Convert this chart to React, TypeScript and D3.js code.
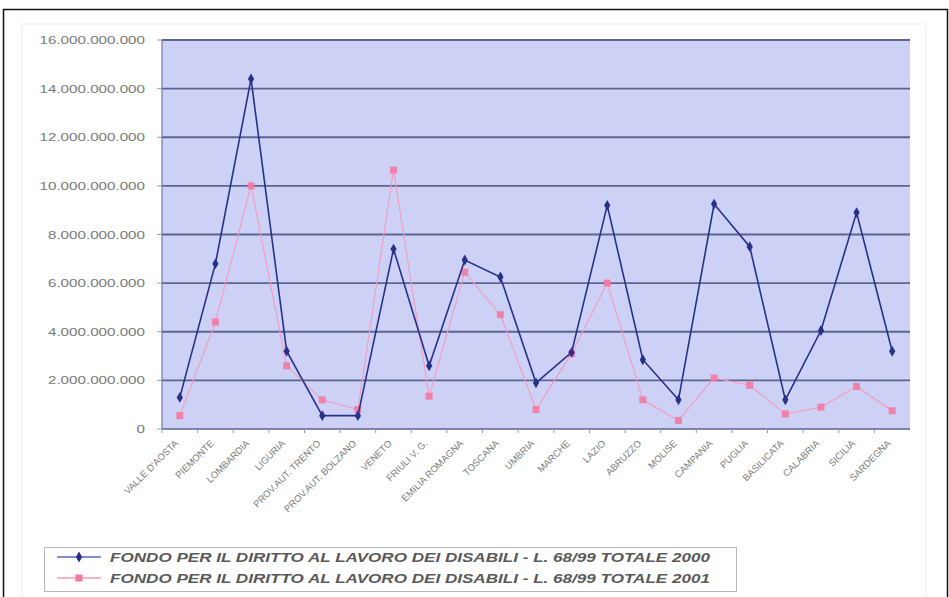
import React from "react";
import * as d3 from "d3";

const categories = [
  "VALLE D'AOSTA", "PIEMONTE", "LOMBARDIA", "LIGURIA", "PROV.AUT. TRENTO",
  "PROV.AUT. BOLZANO", "VENETO", "FRIULI V. G.", "EMILIA ROMAGNA", "TOSCANA",
  "UMBRIA", "MARCHE", "LAZIO", "ABRUZZO", "MOLISE", "CAMPANIA", "PUGLIA",
  "BASILICATA", "CALABRIA", "SICILIA", "SARDEGNA",
];

const fondo2000 = [
  1.3e9, 6.8e9, 14.4e9, 3.2e9, 0.55e9, 0.55e9, 7.4e9, 2.6e9, 6.95e9, 6.25e9,
  1.9e9, 3.15e9, 9.2e9, 2.85e9, 1.2e9, 9.25e9, 7.5e9, 1.2e9, 4.05e9, 8.9e9, 3.2e9,
];

const fondo2001 = [
  0.55e9, 4.4e9, 10.0e9, 2.6e9, 1.2e9, 0.8e9, 10.65e9, 1.35e9, 6.45e9, 4.7e9,
  0.8e9, 3.1e9, 6.0e9, 1.2e9, 0.35e9, 2.1e9, 1.8e9, 0.62e9, 0.9e9, 1.75e9, 0.75e9,
];

const yTicks = [0, 2e9, 4e9, 6e9, 8e9, 10e9, 12e9, 14e9, 16e9];

const legendLabels = [
  "FONDO PER IL DIRITTO AL LAVORO DEI DISABILI  - L. 68/99 TOTALE 2000",
  "FONDO PER IL DIRITTO AL LAVORO DEI DISABILI  - L. 68/99 TOTALE 2001",
];

const W = 949;
const H = 597;
const plot = { left: 162, right: 910, top: 40, bottom: 429 };
const BLUE = "#28318a";
const PINK = "#f27aa2";
const FONT = "Arial, 'Liberation Sans', sans-serif";

const fmt = (v: number) => (v === 0 ? "0" : d3.format(",")(v).replace(/,/g, "."));

export default function App() {
  const x = d3.scaleBand<string>().domain(categories).range([plot.left, plot.right]);
  const cx = (c: string) => (x(c) as number) + x.bandwidth() / 2;
  const y = d3.scaleLinear().domain([0, 16e9]).range([plot.bottom, plot.top]);

  const line = d3
    .line<number>()
    .x((_, i) => cx(categories[i]))
    .y((d) => y(d));

  const diamond = d3.symbol().type(d3.symbolDiamond).size(34)();

  return (
    <svg
      width={W}
      height={H}
      style={{ position: "absolute", left: 0, top: 0, display: "block", background: "#fff" }}
    >
      {/* page frame */}
      <path d={`M3.5,${H} V9.5 H947.5 V${H}`} fill="none" stroke="#111" strokeWidth={1.5} />
      {/* chart area outline */}
      <rect x={22} y={24} width={904} height={H - 20} fill="none" stroke="#efefef" strokeWidth={1} />

      {/* plot area */}
      <rect
        x={plot.left}
        y={plot.top}
        width={plot.right - plot.left}
        height={plot.bottom - plot.top}
        fill="#cdd1f6"
      />

      {/* gridlines */}
      {yTicks.slice(1).map((t) => (
        <line
          key={t}
          x1={plot.left}
          x2={plot.right}
          y1={y(t)}
          y2={y(t)}
          stroke="#5c6492"
          strokeWidth={1.8}
        />
      ))}

      {/* axes */}
      <line x1={plot.left} x2={plot.left} y1={plot.top} y2={plot.bottom} stroke="#7078a8" strokeWidth={1.2} />
      <line x1={plot.left} x2={plot.right} y1={plot.bottom} y2={plot.bottom} stroke="#5a6090" strokeWidth={1.5} />
      {yTicks.map((t) => (
        <line key={t} x1={plot.left - 5} x2={plot.left} y1={y(t)} y2={y(t)} stroke="#9098c0" strokeWidth={1} />
      ))}
      {categories.map((c) => (
        <line
          key={c}
          x1={x(c) as number}
          x2={x(c) as number}
          y1={plot.bottom}
          y2={plot.bottom + 4}
          stroke="#9098c0"
          strokeWidth={1}
        />
      ))}

      {/* y tick labels */}
      {yTicks.map((t) => (
        <text
          key={t}
          transform={`translate(145,${y(t) + 4}) scale(1.38,1)`}
          textAnchor="end"
          fontFamily={FONT}
          fontSize={11}
          fill="#7a7a7a"
        >
          {fmt(t)}
        </text>
      ))}

      {/* x tick labels */}
      {categories.map((c) => (
        <text
          key={c}
          transform={`translate(${cx(c) - 1},${plot.bottom + 15}) rotate(-45)`}
          textAnchor="end"
          fontFamily={FONT}
          fontSize={9.5}
          fill="#7a7a7a"
        >
          {c}
        </text>
      ))}

      {/* series 2001 */}
      <path d={line(fondo2001) || ""} fill="none" stroke="#f59bbb" strokeWidth={1.1} />
      {fondo2001.map((v, i) => (
        <rect
          key={i}
          x={cx(categories[i]) - 3.5}
          y={y(v) - 3.5}
          width={7}
          height={7}
          fill={PINK}
          opacity={0.9}
        />
      ))}

      {/* series 2000 */}
      <path d={line(fondo2000) || ""} fill="none" stroke={BLUE} strokeWidth={1.6} />
      {fondo2000.map((v, i) => (
        <path key={i} d={diamond || ""} transform={`translate(${cx(categories[i])},${y(v)})`} fill={BLUE} />
      ))}

      {/* legend */}
      <rect x={44.5} y={547.5} width={692} height={44} fill="#fff" stroke="#b8b8b8" strokeWidth={1} />
      {[
        { label: legendLabels[0], color: BLUE, lineColor: "#5a68c0", ly: 557 },
        { label: legendLabels[1], color: PINK, lineColor: "#f59bbb", ly: 578 },
      ].map((l, i) => (
        <g key={i}>
          <line x1={57} x2={101} y1={l.ly} y2={l.ly} stroke={l.lineColor} strokeWidth={1.5} />
          {i === 0 ? (
            <path d={diamond || ""} transform={`translate(79,${l.ly})`} fill={l.color} />
          ) : (
            <rect x={75.5} y={l.ly - 3.5} width={7} height={7} fill={l.color} />
          )}
          <text
            x={110}
            y={l.ly + 4.5}
            fontFamily={FONT}
            fontSize={12.5}
            fontStyle="italic"
            fontWeight="bold"
            fill="#5a5a5a"
            textLength={600}
            lengthAdjust="spacingAndGlyphs"
          >
            {l.label}
          </text>
        </g>
      ))}
    </svg>
  );
}
